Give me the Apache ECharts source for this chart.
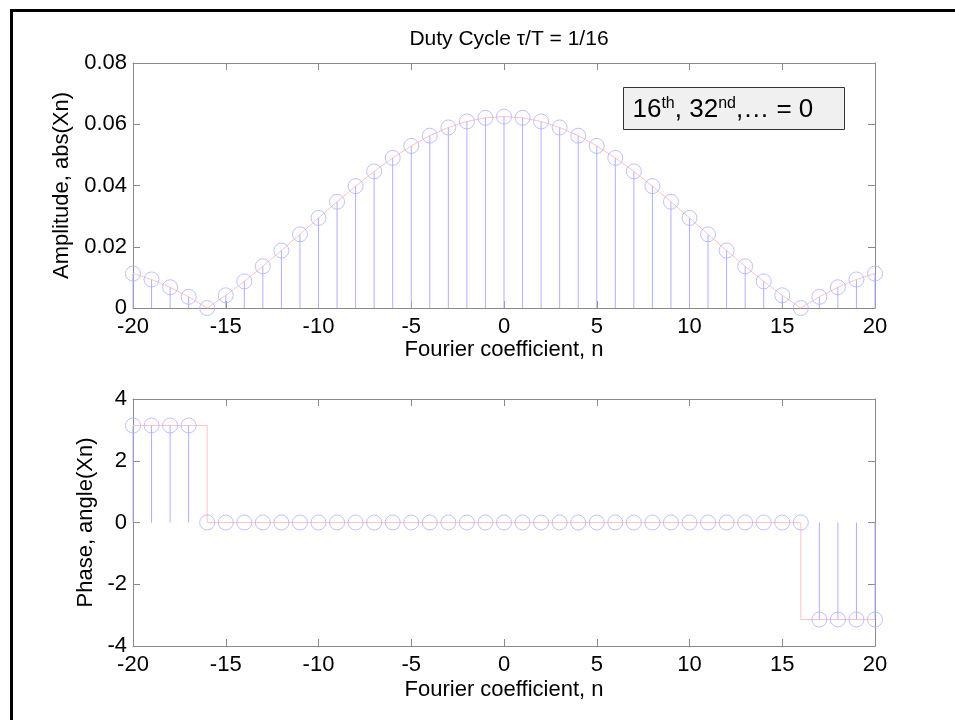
<!DOCTYPE html>
<html>
<head>
<meta charset="utf-8">
<title>Duty Cycle 1/16</title>
<script src="https://cdn.jsdelivr.net/npm/echarts@6/dist/echarts.min.js"></script>
<style>
  html, body { margin: 0; padding: 0; background: #fff; }
  #chart { width: 955px; height: 720px; }
</style>
</head>
<body>
<div id="chart"></div>
<script>
// Harmonic index n = -20 ... 20
const harmonics = [-20,-19,-18,-17,-16,-15,-14,-13,-12,-11,-10,-9,-8,-7,-6,-5,-4,-3,-2,-1,
                   0,1,2,3,4,5,6,7,8,9,10,11,12,13,14,15,16,17,18,19,20];

// |Xn| for a pulse train with duty cycle 1/16
const amplitude = [0.01125,0.00931,0.00677,0.00365,0.0,0.00414,0.00870,0.01360,0.01876,0.02406,
                   0.02941,0.03469,0.03979,0.04460,0.04901,0.05293,0.05627,0.05895,0.06091,0.06210,
                   0.0625,
                   0.06210,0.06091,0.05895,0.05627,0.05293,0.04901,0.04460,0.03979,0.03469,0.02941,
                   0.02406,0.01876,0.01360,0.00870,0.00414,0.0,0.00365,0.00677,0.00931,0.01125];

// angle(Xn), stem values
const phase = [3.1416,3.1416,3.1416,3.1416,0,0,0,0,0,0,
               0,0,0,0,0,0,0,0,0,0,
               0,
               0,0,0,0,0,0,0,0,0,0,
               0,0,0,0,0,0,-3.1416,-3.1416,-3.1416,-3.1416];

// angle(Xn) as traced by the staircase line
const phaseTrace = [3.1416,3.1416,3.1416,3.1416,0,0,0,0,0,0,
                    0,0,0,0,0,0,0,0,0,0,
                    0,
                    0,0,0,0,0,0,0,0,0,0,
                    0,0,0,0,0,-3.1416,-3.1416,-3.1416,-3.1416,-3.1416];

const xTicks = { min: -20, max: 20, interval: 5 };
const ampTicks = { min: 0, max: 0.08, interval: 0.02 };
const phaseTicks = { min: -4, max: 4, interval: 2 };

const FONT = 'Liberation Sans, Arial, Helvetica, sans-serif';
const STEM = '#b0b0ff';
const TRACE = '#ffc4c4';
const BOX = '#8a8a8a';
const LABEL_SIZE = 22;

const pairs = (xs, ys) => xs.map((x, i) => [x, ys[i]]);

function stemRender(params, api) {
  const x = api.value(0), y = api.value(1);
  const a = api.coord([x, 0]);
  const b = api.coord([x, y]);
  return {
    type: 'line',
    shape: { x1: a[0], y1: a[1], x2: b[0], y2: b[1] },
    style: { stroke: STEM, lineWidth: 1 }
  };
}

function xAxisPair(gridIndex, nameGap) {
  return [
    {
      type: 'value', gridIndex, position: 'bottom',
      min: xTicks.min, max: xTicks.max, interval: xTicks.interval,
      name: 'Fourier coefficient, n', nameLocation: 'middle', nameGap,
      nameTextStyle: { fontFamily: FONT, fontSize: LABEL_SIZE, color: '#000' },
      axisLine: { show: true, onZero: false, lineStyle: { color: BOX, width: 1 } },
      axisTick: { show: true, inside: true, length: 7, lineStyle: { color: BOX } },
      axisLabel: { fontFamily: FONT, fontSize: LABEL_SIZE, color: '#000', margin: 8 },
      splitLine: { show: false }
    },
    {
      type: 'value', gridIndex, position: 'top',
      min: xTicks.min, max: xTicks.max, interval: xTicks.interval,
      axisLine: { show: true, onZero: false, lineStyle: { color: BOX, width: 1 } },
      axisTick: { show: true, inside: true, length: 7, lineStyle: { color: BOX } },
      axisLabel: { show: false },
      splitLine: { show: false }
    }
  ];
}

function yAxisPair(gridIndex, ticks, name, nameGap) {
  return [
    {
      type: 'value', gridIndex, position: 'left',
      min: ticks.min, max: ticks.max, interval: ticks.interval,
      name, nameLocation: 'middle', nameGap,
      nameTextStyle: { fontFamily: FONT, fontSize: LABEL_SIZE, color: '#000' },
      axisLine: { show: true, onZero: false, lineStyle: { color: BOX, width: 1 } },
      axisTick: { show: true, inside: true, length: 7, lineStyle: { color: BOX } },
      axisLabel: { fontFamily: FONT, fontSize: LABEL_SIZE, color: '#000', margin: 6 },
      splitLine: { show: false }
    },
    {
      type: 'value', gridIndex, position: 'right',
      min: ticks.min, max: ticks.max, interval: ticks.interval,
      axisLine: { show: true, onZero: false, lineStyle: { color: BOX, width: 1 } },
      axisTick: { show: true, inside: true, length: 7, lineStyle: { color: BOX } },
      axisLabel: { show: false },
      splitLine: { show: false }
    }
  ];
}

const chart = echarts.init(document.getElementById('chart'), null, { renderer: 'canvas' });

chart.setOption({
  backgroundColor: '#fff',
  animation: false,
  title: {
    text: 'Duty Cycle τ/T = 1/16',
    left: 504, top: 24, textAlign: 'center',
    textStyle: { fontFamily: FONT, fontSize: 21, fontWeight: 'normal', color: '#000' }
  },
  grid: [
    { left: 133, top: 63, width: 742, height: 245 },
    { left: 133, top: 399, width: 742, height: 247 }
  ],
  xAxis: [...xAxisPair(0, 29), ...xAxisPair(1, 33)],
  yAxis: [...yAxisPair(0, ampTicks, 'Amplitude, abs(Xn)', 58),
          ...yAxisPair(1, phaseTicks, 'Phase, angle(Xn)', 36)],
  series: [
    // amplitude
    { type: 'line', xAxisIndex: 0, yAxisIndex: 0, data: pairs(harmonics, amplitude),
      showSymbol: false, lineStyle: { color: TRACE, width: 1 }, z: 1, silent: true },
    { type: 'custom', xAxisIndex: 0, yAxisIndex: 0, data: pairs(harmonics, amplitude),
      renderItem: stemRender, z: 2, silent: true },
    { type: 'scatter', xAxisIndex: 0, yAxisIndex: 0, data: pairs(harmonics, amplitude),
      symbol: 'circle', symbolSize: 15,
      itemStyle: { color: 'rgba(0,0,0,0)', borderColor: STEM, borderWidth: 1 }, z: 3, silent: true },
    // phase
    { type: 'line', xAxisIndex: 2, yAxisIndex: 2, data: pairs(harmonics, phaseTrace), step: 'end',
      showSymbol: false, lineStyle: { color: TRACE, width: 1 }, z: 1, silent: true },
    { type: 'custom', xAxisIndex: 2, yAxisIndex: 2, data: pairs(harmonics, phase),
      renderItem: stemRender, z: 2, silent: true },
    { type: 'scatter', xAxisIndex: 2, yAxisIndex: 2, data: pairs(harmonics, phase),
      symbol: 'circle', symbolSize: 15,
      itemStyle: { color: 'rgba(0,0,0,0)', borderColor: STEM, borderWidth: 1 }, z: 3, silent: true }
  ],
  graphic: [
    // figure frame
    { type: 'rect', left: 9, top: 8, z: 100,
      shape: { x: 0, y: 0, width: 1000, height: 800 },
      style: { fill: 'none', stroke: '#000', lineWidth: 3 } },
    // annotation box
    { type: 'group', left: 623, top: 87, z: 50, children: [
      { type: 'rect', shape: { x: 0, y: 0, width: 221, height: 42 },
        style: { fill: '#f0f0f0', stroke: '#333', lineWidth: 1 } },
      { type: 'text', x: 9, y: 22,
        style: {
          text: '16{sup|th}, 32{sup|nd},… = 0',
          fontFamily: FONT, fontSize: 26, fill: '#000', verticalAlign: 'middle',
          rich: { sup: { fontFamily: FONT, fontSize: 16, padding: [0, 0, 12, 0] } }
        } }
    ] }
  ]
});
</script>
</body>
</html>
